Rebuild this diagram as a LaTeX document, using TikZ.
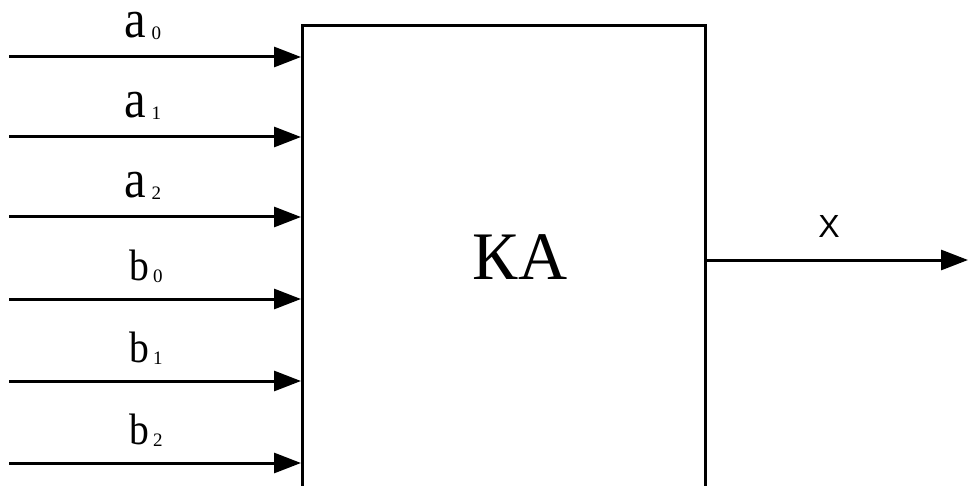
\documentclass[tikz,border=0pt]{standalone}
\usepackage{fontspec}
\usepackage{graphicx}
\setmainfont{Liberation Serif}
\newfontfamily\sansx{Liberation Sans}
\usetikzlibrary{arrows.meta}
\tikzset{
  arr/.style={line width=3pt, -{Triangle[length=27pt,width=20pt]}},
  blk/.style={draw, line width=3pt, rectangle, minimum width=403pt, minimum height=520pt, anchor=north west, inner sep=0pt},
  lbl/.style={anchor=base, inner sep=0pt},
}
\newcommand{\sig}[4]{\raisebox{0pt}[30pt][4pt]{\scalebox{0.9}[1]{\fontsize{#3}{#3}\selectfont #1}\hspace{#4}\raisebox{-2pt}{\fontsize{19}{19}\selectfont #2}}}
\begin{document}
\begin{tikzpicture}[x=1pt,y=-1pt]
\useasboundingbox (0,0) rectangle (968,486);
\begin{scope}
\clip (0,0) rectangle (968,486);
\node[blk] (ka) at (301,24) {};
\end{scope}
\node[anchor=center, inner sep=0pt, font=\fontsize{68}{68}\selectfont] (kat) at (520,257) {КА};
\foreach \y/\n in {57/1,137/2,217/3,299/4,381/5,463/6}{
  \coordinate (s\n) at (9,\y);
  \draw[arr] (s\n) -- (ka.west |- s\n);
}
\node[lbl] (la0) at (143,38) {\sig{a}{0}{54}{5pt}};
\node[lbl] (la1) at (143,118) {\sig{a}{1}{54}{5pt}};
\node[lbl] (la2) at (143,198) {\sig{a}{2}{54}{5pt}};
\node[lbl] (lb0) at (146,280) {\sig{b}{0}{44}{4pt}};
\node[lbl] (lb1) at (146,362) {\sig{b}{1}{44}{4pt}};
\node[lbl] (lb2) at (146,444) {\sig{b}{2}{44}{4pt}};
\coordinate (o) at (968,260);
\draw[arr] (ka.east |- o) -- (o);
\node[inner sep=0pt, font=\sansx\fontsize{32}{32}\selectfont] (lx) at (829,226) {X};
\end{tikzpicture}
\end{document}
